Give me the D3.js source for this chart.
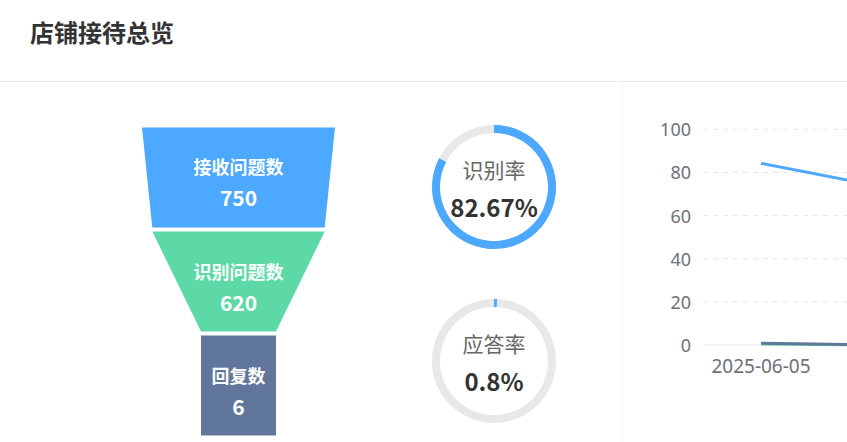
<!DOCTYPE html>
<html>
<head>
<meta charset="utf-8">
<script src="https://cdn.jsdelivr.net/npm/d3@7/dist/d3.min.js"></script>
<style>
html,body{margin:0;padding:0;background:#fff;overflow:hidden;}
svg{display:block;font-family:"Noto Sans CJK SC","Noto Sans",sans-serif;}
</style>
</head>
<body>
<svg id="c" width="847" height="442"></svg>
<script>
// ---- data ----
const title = "店铺接待总览";
const funnelNames = ["接收问题数", "识别问题数", "回复数"];
const funnelValues = [750, 620, 6];
const funnelColors = ["#4da8ff", "#5cd9a6", "#60779b"];
const gaugeNames = ["识别率", "应答率"];
const gaugeValues = [82.67, 0.8];
const dates = ["2025-06-05", "2025-06-06"];
const recognitionRate = [84.2, 73.8];
const answerRate = [0.8, 0];
const replyRate = [0.5, 0];
const yTicks = [0, 20, 40, 60, 80, 100];

const svg = d3.select("#c");

// title + divider
svg.append("text").attr("x", 30).attr("y", 42)
  .attr("font-size", 24).attr("font-weight", "bold").attr("fill", "#333")
  .text(title);
svg.append("line").attr("x1", 0).attr("x2", 847).attr("y1", 81.5).attr("y2", 81.5)
  .attr("stroke", "#ebebeb");
svg.append("line").attr("x1", 622.5).attr("x2", 622.5).attr("y1", 82).attr("y2", 442)
  .attr("stroke", "#f6f6f6");

// ---- funnel ----
const cx = 238.5;
const wScale = d3.scaleLinear().domain([0, d3.max(funnelValues)]).range([74, 193]);
const yF = d3.scaleBand().domain(funnelNames).range([127.5, 435.5]).paddingInner(0.04);
const fg = svg.append("g");
funnelNames.forEach((n, i) => {
  const top = yF(n), bot = top + yF.bandwidth();
  const wt = wScale(funnelValues[i]);
  const wb = wScale(i < funnelValues.length - 1 ? funnelValues[i + 1] : funnelValues[i]);
  const pts = [[cx - wt / 2, top], [cx + wt / 2, top], [cx + wb / 2, bot], [cx - wb / 2, bot]];
  fg.append("polygon").attr("points", pts.map(p => p.join(",")).join(" "))
    .attr("fill", funnelColors[i]);
  const mid = top + yF.bandwidth() / 2;
  fg.append("text").attr("x", cx).attr("y", mid - 11).attr("text-anchor", "middle")
    .attr("dominant-baseline", "central").attr("fill", "#fff")
    .attr("font-size", 18).attr("font-weight", "bold").text(n);
  fg.append("text").attr("x", cx).attr("y", mid + 20).attr("text-anchor", "middle")
    .attr("dominant-baseline", "central").attr("fill", "#fff")
    .attr("font-size", 21).attr("font-weight", "bold").text(funnelValues[i]);
});

// ---- gauges ----
const gaugeCenters = [187, 361];
const arcBg = d3.arc().innerRadius(54).outerRadius(62).startAngle(0).endAngle(2 * Math.PI);
const pctScale = d3.scaleLinear().domain([0, 100]).range([0, 2 * Math.PI]);
gaugeNames.forEach((n, i) => {
  const g = svg.append("g").attr("transform", `translate(494,${gaugeCenters[i]})`);
  g.append("path").attr("d", arcBg()).attr("fill", "#e8e8e8");
  g.append("path").attr("d", d3.arc().innerRadius(54).outerRadius(62)
      .startAngle(0).endAngle(pctScale(gaugeValues[i]))()).attr("fill", "#4da8ff");
  g.append("text").attr("y", -18).attr("text-anchor", "middle").attr("dominant-baseline", "central")
    .attr("font-size", 21).attr("fill", "#666").text(n);
  g.append("text").attr("y", 19).attr("text-anchor", "middle").attr("dominant-baseline", "central")
    .attr("font-size", 24).attr("font-weight", "bold").attr("fill", "#333")
    .text(gaugeValues[i] + "%");
});

// ---- line chart ----
const x0 = 703, band = 116;
const x = d3.scaleBand().domain(dates).range([x0, x0 + band * dates.length]);
const y = d3.scaleLinear().domain([0, 100]).range([345, 129.3]);
const lg = svg.append("g");
yTicks.forEach(t => {
  if (t > 0) lg.append("line").attr("x1", x0).attr("x2", 1100).attr("y1", y(t)).attr("y2", y(t))
    .attr("stroke", "#e6e6e6").attr("stroke-dasharray", "5,5");
  lg.append("text").attr("x", 691).attr("y", y(t)).attr("text-anchor", "end")
    .attr("dominant-baseline", "central").attr("font-size", 18).attr("fill", "#6e7079")
    .attr("font-family", "Noto Sans, sans-serif").text(t);
});
lg.append("line").attr("x1", x0).attr("x2", 1100).attr("y1", y(0)).attr("y2", y(0))
  .attr("stroke", "#e0e6f1");
// category labels shown at an interval (every other one), like an auto label interval
dates.forEach((d, i) => {
  if (i % 2 !== 0) return;
  lg.append("text").attr("x", x(d) + band / 2).attr("y", 366).attr("text-anchor", "middle")
    .attr("dominant-baseline", "central").attr("font-size", 19).attr("fill", "#6e7079")
    .attr("font-family", "Noto Sans, sans-serif").text(d);
});
const line = d3.line().x((v, i) => x(dates[i]) + band / 2).y(v => y(v));
[[replyRate, "#5cd9a6"], [answerRate, "#60779b"], [recognitionRate, "#4da8ff"]].forEach(([s, c]) => {
  lg.append("path").attr("d", line(s)).attr("fill", "none").attr("stroke", c)
    .attr("stroke-width", 3).attr("stroke-linejoin", "round");
});
</script>
</body>
</html>
